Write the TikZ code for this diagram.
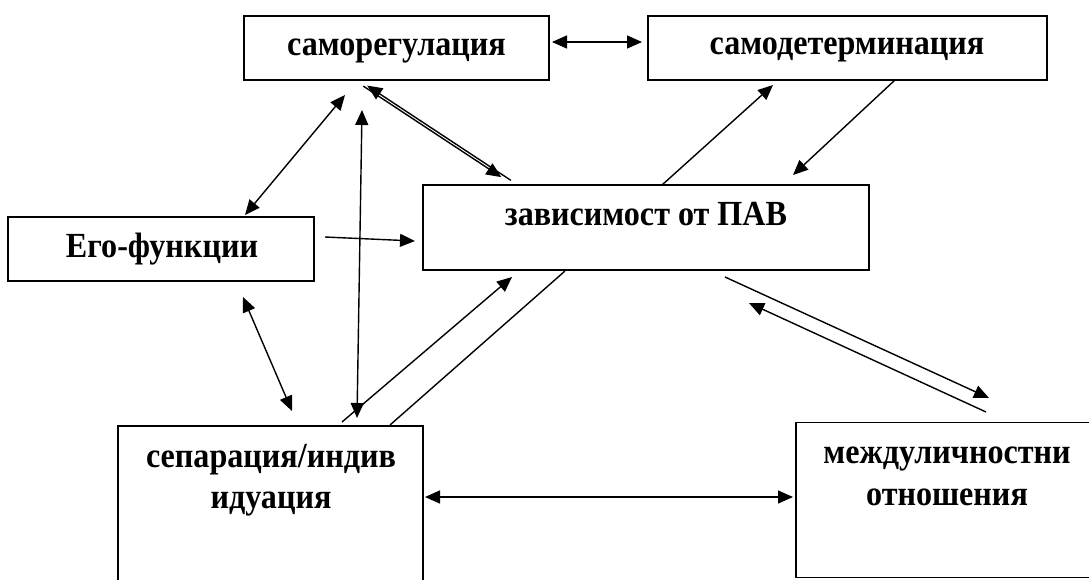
\documentclass[tikz,border=0pt]{standalone}
\usepackage{fontspec}
\setmainfont{Liberation Serif}
\usetikzlibrary{arrows.meta}
\newcommand{\tallt}[1]{\scalebox{1.02}[1.12]{#1}}
\begin{document}
\begin{tikzpicture}[x=1pt,y=-1pt,
  box/.style={draw, line width=1.8pt, inner sep=0pt},
  lbl/.style={font=\fontsize{31.5}{42}\selectfont\bfseries, inner sep=0pt, anchor=base},
  conn/.style={line width=1.4pt},
  tip/.style={-{Triangle[length=15pt,width=13pt]}},
  tips/.style={{Triangle[length=15pt,width=13pt]}-{Triangle[length=15pt,width=13pt]}}]
\clip (0,0) rectangle (1089,579);
\fill[white] (0,0) rectangle (1089,579);
% boxes
\node[box, minimum width=305pt, minimum height=64pt] (sreg) at (396.5,48) {};
\node[box, minimum width=399pt, minimum height=64pt] (sdet) at (847.5,48) {};
\node[box, minimum width=306pt, minimum height=64pt] (ego) at (161,249) {};
\node[box, minimum width=446pt, minimum height=85pt] (zav) at (646,227.5) {};
\node[box, minimum width=305pt, minimum height=194pt] (sep) at (270.5,523) {};
\node[box, minimum width=302pt, minimum height=155pt] (mezh) at (947,500) {};
% labels
\node[lbl] (sreg-t) at (396.5,55) {\tallt{саморегулация}};
\node[lbl] (sdet-t) at (847,54) {\tallt{самодетерминация}};
\node[lbl] (ego-t) at (162,257) {\tallt{Его-функции}};
\node[lbl] (zav-t) at (646,225) {\tallt{зависимост от ПАВ}};
\node[lbl] (sep-t1) at (271,467) {\tallt{сепарация/индив}};
\node[lbl] (sep-t2) at (271,508) {\tallt{идуация}};
\node[lbl] (mezh-t1) at (947,463) {\tallt{междуличностни}};
\node[lbl] (mezh-t2) at (947,505) {\tallt{отношения}};
% connector end points
\coordinate (c1a) at (552,42);  \coordinate (c1b) at (642,42);
\coordinate (c2a) at (245,215); \coordinate (c2b) at (345,95);
\coordinate (c3a) at (357,418); \coordinate (c3b) at (362,110);
\coordinate (c4a) at (363.3,86.1);  \coordinate (c4b) at (501.3,177.1);
\coordinate (c4c) at (510.8,180.3); \coordinate (c4d) at (367.2,85.6);
\coordinate (c5a) at (325,237); \coordinate (c5b) at (415,241);
\coordinate (c6a) at (243,297); \coordinate (c6b) at (292,411);
\coordinate (c7a) at (342,422); \coordinate (c7b) at (512,277);
\coordinate (c8a) at (390,425); \coordinate (c8b) at (565,271);
\coordinate (c9a) at (662,185); \coordinate (c9b) at (773,85);
\coordinate (c10a) at (895,80); \coordinate (c10b) at (793,175);
\coordinate (c11a) at (725,277); \coordinate (c11b) at (989,398);
\coordinate (c11c) at (986,412); \coordinate (c11d) at (749,303);
\coordinate (c12a) at (425,497); \coordinate (c12b) at (793,497);
% connectors
\draw[conn, tips] (c1a) -- (c1b);
\draw[conn, tips] (c2a) -- (c2b);
\draw[conn, tips] (c3a) -- (c3b);
\draw[conn, tip] (c4a) -- (c4b);
\draw[conn, tip] (c4c) -- (c4d);
\draw[conn, tip] (c5a) -- (c5b);
\draw[conn, tips] (c6a) -- (c6b);
\draw[conn, tip] (c7a) -- (c7b);
\draw[conn] (c8a) -- (c8b);
\draw[conn, tip] (c9a) -- (c9b);
\draw[conn, tip] (c10a) -- (c10b);
\draw[conn, tip] (c11a) -- (c11b);
\draw[conn, tip] (c11c) -- (c11d);
\draw[conn, tips] (c12a) -- (c12b);
\end{tikzpicture}
\end{document}
